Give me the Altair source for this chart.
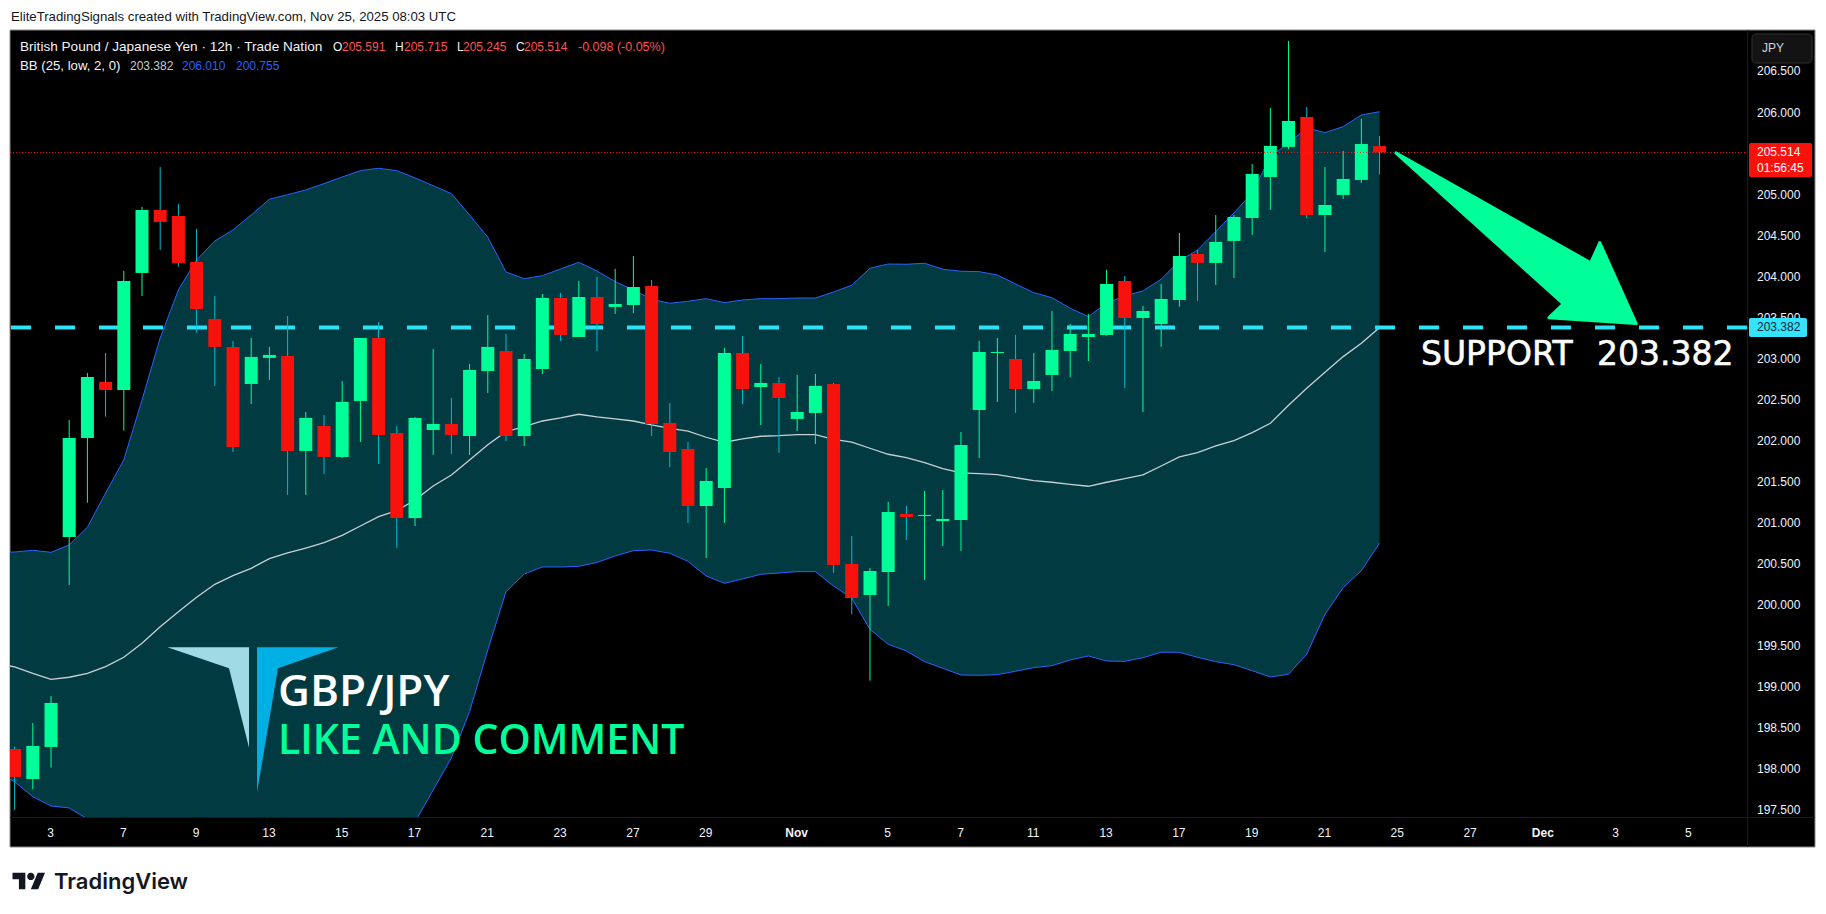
import altair as alt
import pandas as pd

OPEN = [198.248, 197.883, 198.273, 200.83, 202.036, 202.718, 202.621, 204.046, 204.813, 204.74,
        204.18, 203.486, 203.145, 202.694, 203.011, 203.035, 201.878, 202.182, 201.805, 202.487,
        203.254, 202.097, 201.062, 202.134, 202.207, 202.061, 202.852, 203.096, 202.061, 202.877,
        203.741, 203.266, 203.753, 203.632, 203.656, 203.888, 202.219, 201.902, 201.208, 201.427,
        203.071, 202.657, 202.706, 202.268, 202.341, 202.694, 200.501, 200.124, 200.404, 201.111,
        201.086, 201.025, 201.037, 202.377, 203.071, 202.998, 202.633, 202.804, 203.096, 203.266,
        203.291, 203.948, 203.498, 203.425, 203.717, 204.277, 204.168, 204.436, 204.716, 205.215,
        205.581, 205.946, 204.752, 204.996, 205.179, 205.591]
HIGH = [198.276, 198.565, 198.894, 202.255, 202.828, 203.071, 204.07, 204.85, 205.337, 204.886,
        204.582, 203.766, 203.218, 203.254, 203.145, 203.522, 202.353, 202.316, 202.73, 203.254,
        203.449, 202.182, 202.292, 203.12, 202.523, 202.938, 203.534, 203.303, 203.059, 203.79,
        203.802, 203.948, 203.997, 204.095, 204.253, 203.961, 202.462, 201.988, 201.671, 203.132,
        203.279, 202.938, 202.779, 202.804, 202.816, 202.706, 200.843, 200.453, 201.257, 201.208,
        201.391, 201.403, 202.109, 203.218, 203.254, 203.291, 203.071, 203.583, 203.425, 203.547,
        204.082, 204.009, 203.644, 203.912, 204.533, 204.326, 204.752, 204.752, 205.373, 206.056,
        206.872, 206.068, 205.337, 205.532, 205.922, 205.715]
LOW = [197.505, 197.761, 198.021, 200.246, 201.248, 202.296, 202.125, 203.766, 204.326, 204.123,
       203.319, 202.67, 201.866, 202.45, 202.743, 201.342, 201.342, 201.598, 201.793, 201.988,
       201.72, 200.697, 200.964, 201.829, 201.841, 201.829, 202.584, 202.0, 201.939, 202.816,
       203.218, 203.266, 203.096, 203.547, 203.559, 202.061, 201.683, 201.001, 200.575, 201.001,
       202.45, 202.194, 201.854, 202.121, 201.963, 200.392, 199.89, 199.08, 199.99, 200.794,
       200.307, 200.721, 200.66, 201.793, 202.475, 202.341, 202.462, 202.609, 202.779, 202.974,
       203.279, 202.645, 202.353, 203.145, 203.635, 203.705, 203.9, 203.985, 204.509, 204.813,
       205.556, 204.716, 204.302, 204.947, 205.142, 205.245]
CLOSE = [197.907, 198.285, 198.809, 202.036, 202.779, 202.621, 203.948, 204.813, 204.667, 204.168,
         203.607, 203.145, 201.927, 203.023, 203.047, 201.878, 202.28, 201.805, 202.475, 203.254,
         202.073, 201.062, 202.28, 202.207, 202.073, 202.864, 203.145, 202.061, 202.998, 203.741,
         203.291, 203.753, 203.425, 203.668, 203.875, 202.207, 201.866, 201.208, 201.513, 203.071,
         202.633, 202.706, 202.523, 202.353, 202.67, 200.489, 200.087, 200.416, 201.135, 201.074,
         201.099, 201.05, 201.951, 203.084, 203.084, 202.633, 202.73, 203.108, 203.303, 203.303,
         203.912, 203.498, 203.583, 203.729, 204.253, 204.168, 204.423, 204.728, 205.252, 205.593,
         205.897, 204.752, 204.874, 205.191, 205.617, 205.514]

# bands start one bar before the first candle so they reach the left edge
BB_UPPER = [200.64, 200.648, 200.668, 200.644, 200.733, 200.949, 201.366, 201.769, 202.499, 203.254,
            203.839, 204.204, 204.436, 204.57, 204.752, 204.944, 205.0, 205.057, 205.134, 205.215,
            205.292, 205.321, 205.292, 205.203, 205.109, 205.012, 204.752, 204.481, 204.058, 203.976,
            204.013, 204.095, 204.176, 204.07, 203.94, 203.839, 203.726, 203.677, 203.701, 203.733,
            203.684, 203.717, 203.733, 203.733, 203.741, 203.741, 203.814, 203.896, 204.103, 204.155,
            204.152, 204.164, 204.091, 204.067, 204.062, 204.021, 203.912, 203.806, 203.745, 203.616,
            203.514, 203.677, 203.766, 203.827, 203.969, 204.192, 204.326, 204.549, 204.777, 205.02,
            205.462, 205.629, 205.812, 205.755, 205.828, 205.97, 206.01]
BB_BASIS = [199.296, 199.247, 199.168, 199.097, 199.122, 199.17, 199.251, 199.365, 199.536, 199.738,
            199.92, 200.096, 200.254, 200.359, 200.449, 200.566, 200.636, 200.696, 200.761, 200.851,
            200.964, 201.078, 201.151, 201.281, 201.452, 201.586, 201.769, 201.955, 202.113, 202.174,
            202.243, 202.28, 202.325, 202.292, 202.268, 202.243, 202.195, 202.154, 202.121, 202.045,
            201.984, 202.024, 202.057, 202.064, 202.076, 202.076, 202.02, 201.987, 201.911, 201.838,
            201.796, 201.735, 201.662, 201.61, 201.601, 201.589, 201.553, 201.516, 201.497, 201.472,
            201.448, 201.497, 201.54, 201.586, 201.695, 201.805, 201.857, 201.939, 202.003, 202.101,
            202.215, 202.435, 202.641, 202.836, 203.027, 203.19, 203.382]
BB_LOWER = [197.968, 197.85, 197.667, 197.554, 197.53, 197.396, 197.128, 196.969, 196.579, 196.214,
            195.995, 195.995, 196.08, 196.141, 196.153, 196.178, 196.275, 196.336, 196.385, 196.494,
            196.641, 196.823, 197.006, 197.359, 197.749, 198.139, 198.703, 199.454, 200.164, 200.38,
            200.465, 200.465, 200.473, 200.52, 200.599, 200.664, 200.672, 200.632, 200.534, 200.355,
            200.266, 200.319, 200.376, 200.392, 200.408, 200.408, 200.234, 200.084, 199.706, 199.524,
            199.442, 199.312, 199.231, 199.15, 199.146, 199.153, 199.195, 199.239, 199.263, 199.332,
            199.381, 199.32, 199.316, 199.36, 199.426, 199.426, 199.365, 199.312, 199.275, 199.202,
            199.125, 199.158, 199.405, 199.887, 200.213, 200.42, 200.755]

TICK_BARS = [2, 6, 10, 14, 18, 22, 26, 30, 34, 38, 43, 48, 52, 56, 60, 64, 68, 72, 76, 80, 84, 88, 92]
TICK_LABELS = ['3', '7', '9', '13', '15', '17', '21', '23', '27', '29', 'Nov', '5', '7', '11', '13', '17',
               '19', '21', '25', '27', 'Dec', '3', '5']
# 205.5 is left out: the last-price tag takes its place on the scale
PRICE_TICKS = [197.5, 198.0, 198.5, 199.0, 199.5, 200.0, 200.5, 201.0, 201.5, 202.0, 202.5, 203.0,
               203.5, 204.0, 204.5, 205.0, 206.0, 206.5]

SUPPORT = 203.382
LAST = 205.514

ARROW_BAR = [75.85, 86.6, 87.1, 89.1, 84.3, 85.1]
ARROW_PRICE = [205.516, 204.17, 204.415, 203.43, 203.5, 203.67]
LOGO_L_BAR = [8.396, 12.88, 12.88, 11.78]
LOGO_L_PRICE = [199.487, 199.487, 198.264, 199.231]
LOGO_R_BAR = [13.32, 17.79, 14.47, 13.32]
LOGO_R_PRICE = [199.487, 199.487, 199.231, 197.721]

GREEN = '#00ff99'
RED = '#f7120c'
CYAN = '#2de2f5'
BLUE = '#2962ff'
TEAL = '#023a42'

W, H = 1737, 787

candles = pd.DataFrame({'bar': range(len(OPEN)), 'open': OPEN, 'high': HIGH, 'low': LOW, 'close': CLOSE})
up = candles[candles['close'] >= candles['open']]
down = candles[candles['close'] < candles['open']]
bands = pd.DataFrame({'bar': range(-1, len(BB_UPPER) - 1), 'upper': BB_UPPER, 'basis': BB_BASIS, 'lower': BB_LOWER})

x_scale = alt.Scale(domain=[-0.253, 95.19], nice=False, zero=False)
y_scale = alt.Scale(domain=[197.42, 207.005], nice=False, zero=False)

label_expr = f"{TICK_LABELS}[indexof({TICK_BARS}, datum.value)]"
x_axis = alt.Axis(values=TICK_BARS, labelExpr=label_expr, title=None, grid=False, domain=False, ticks=False,
                  labelColor='#f0f3fa', labelFont='Liberation Sans', labelFontSize=12, labelPadding=10,
                  labelOffset=-1, labelOverlap=False, labelBound=False, labelFlush=False, zindex=1,
                  labelFontWeight={'condition': {'test': 'datum.value == 43 || datum.value == 84', 'value': 'bold'},
                                   'value': 'normal'})

X = alt.X('bar:Q', scale=x_scale, axis=x_axis)


def Y(field):
    return alt.Y(field + ':Q', scale=y_scale, axis=None)


def panel(x0, y0, x1, y1, fill, **kw):
    # page pixels -> plot pixels
    return alt.Chart(alt.Data(values=[{}])).mark_rect(fill=fill, **kw).encode(
        x=alt.value(x0 - 10), x2=alt.value(x1 - 10), y=alt.value(y0 - 30), y2=alt.value(y1 - 30))


def note(text, x, y, color='#f0f3fa', size=12, font='Liberation Sans', weight='normal', edge=0):
    return alt.Chart(alt.Data(values=[{}])).mark_text(
        text=text, color=color, fontSize=size, font=font, fontWeight=weight, align='left', baseline='middle',
        stroke=color, strokeWidth=edge
    ).encode(x=alt.value(x - 10), y=alt.value(y - 30))


def polygon(bars, prices, color, width=0):
    df = pd.DataFrame({'bar': bars + bars[:1], 'price': prices + prices[:1], 'n': range(len(bars) + 1)})
    return alt.Chart(df).mark_line(fill=color, stroke=color, strokeWidth=width, strokeJoin='round').encode(
        x=X, y=Y('price'), order='n:Q')


price_labels = alt.Chart(pd.DataFrame({'price': PRICE_TICKS})).mark_text(
    color='#f0f3fa', font='Liberation Sans', fontSize=12, align='left', baseline='middle'
).encode(x=alt.value(W + 10), y=Y('price'), text=alt.Text('price:Q', format='.3f'))

layers = [
    panel(10, 30, 1815, 847, '#000000', stroke='#8a8a8a', strokeWidth=1),
    alt.Chart(bands).mark_area(color=TEAL, clip=True).encode(x=X, y=Y('upper'), y2='lower:Q'),
    alt.Chart(bands).mark_line(color='#c8d0d4', strokeWidth=1.3, clip=True).encode(x=X, y=Y('basis')),
    alt.Chart(bands).mark_line(color=BLUE, strokeWidth=1, clip=True).encode(x=X, y=Y('upper')),
    alt.Chart(bands).mark_line(color=BLUE, strokeWidth=1, clip=True).encode(x=X, y=Y('lower')),
    alt.Chart(pd.DataFrame({'price': [SUPPORT]})).mark_rule(color=CYAN, strokeWidth=4, strokeDash=[20, 24]).encode(
        x=alt.value(1), x2=alt.value(W), y=Y('price')),
    alt.Chart(up).mark_rule(color=GREEN, strokeWidth=1, clip=True).encode(x=X, y=Y('low'), y2='high:Q'),
    alt.Chart(down).mark_rule(color='#00bcd4', strokeWidth=1, clip=True).encode(x=X, y=Y('low'), y2='high:Q'),
    alt.Chart(up).mark_rule(color=GREEN, strokeWidth=13, clip=True).encode(x=X, y=Y('open'), y2='close:Q'),
    alt.Chart(down).mark_rule(color=RED, strokeWidth=13, clip=True).encode(x=X, y=Y('open'), y2='close:Q'),
    alt.Chart(pd.DataFrame({'price': [LAST]})).mark_rule(color='#ff1a1a', strokeWidth=1, strokeDash=[1, 2]).encode(
        x=alt.value(0), x2=alt.value(W), y=Y('price')),
    polygon(LOGO_L_BAR, LOGO_L_PRICE, '#a0dae5'),
    polygon(LOGO_R_BAR, LOGO_R_PRICE, '#00b0e4'),
    polygon(ARROW_BAR, ARROW_PRICE, GREEN, width=3),
    note('GBP/JPY', 278, 693, '#ffffff', 44, 'Open Sans', 600),
    note('LIKE AND COMMENT', 278, 742, GREEN, 41, 'Open Sans', 600),
    note('SUPPORT', 1421, 355, '#ffffff', 33, 'DejaVu Sans', edge=0.6),
    note('203.382', 1597, 355, '#ffffff', 33, 'DejaVu Sans', edge=0.6),
    panel(1747, 30, 1748, 847, '#1a1a1a'),
    panel(10, 817, 1815, 818, '#1a1a1a'),
    price_labels,
    panel(1749, 318, 1807, 337, '#33e3ff', cornerRadius=2),
    note('203.382', 1757, 327, '#0a2a30'),
    panel(1749, 143, 1812, 177, RED, cornerRadius=2),
    note('205.514', 1757, 152, '#ffffff'),
    note('01:56:45', 1757, 168, '#ffffff'),
    panel(1752, 34, 1812, 63, '#131313', stroke='#333333', strokeWidth=1, cornerRadius=4),
    note('JPY', 1762, 48, '#d1d4dc'),
    # chart header and legend
    note('EliteTradingSignals created with TradingView.com, Nov 25, 2025 08:03 UTC', 11, 17, '#131722', 13.2),
    note('British Pound / Japanese Yen · 12h · Trade Nation', 20, 47, size=13.6),
    note('O', 333, 47), note('205.591', 342, 47, '#ff5252'),
    note('H', 395, 47), note('205.715', 404, 47, '#ff5252'),
    note('L', 457, 47), note('205.245', 463, 47, '#ff5252'),
    note('C', 516, 47), note('205.514', 524, 47, '#ff5252'),
    note('-0.098 (-0.05%)', 578, 47, '#ff5252', 12.5),
    note('BB (25, low, 2, 0)', 20, 66, size=13.2),
    note('203.382', 130, 66, '#c4ccd0'),
    note('206.010', 182, 66, BLUE),
    note('200.755', 236, 66, BLUE),
    # TradingView mark under the chart
    alt.Chart(alt.Data(values=[{}])).mark_point(
        shape='M-0.222,0.5H-0.611V-0.111H-1V-0.5H-0.222ZM0.556,0.5H0.111L0.528,-0.5H0.972Z'
              'M-0.111,-0.278A0.222,0.222 0 1 0 0.333,-0.278A0.222,0.222 0 1 0 -0.111,-0.278Z',
        size=1089, filled=True, color='#131722', opacity=1
    ).encode(x=alt.value(29 - 10), y=alt.value(881 - 30)),
    note('TradingView', 54, 882, '#131722', 22, 'Inter', 600),
]

chart = alt.layer(*layers).properties(
    width=W, height=H,
    padding={'left': 2, 'top': 22, 'right': 70, 'bottom': 89},
    autosize=alt.AutoSizeParams(type='none'),
    background='#ffffff',
).configure_view(stroke=None)

chart.save("out.html", embed_options={"renderer": "svg", "actions": False})
